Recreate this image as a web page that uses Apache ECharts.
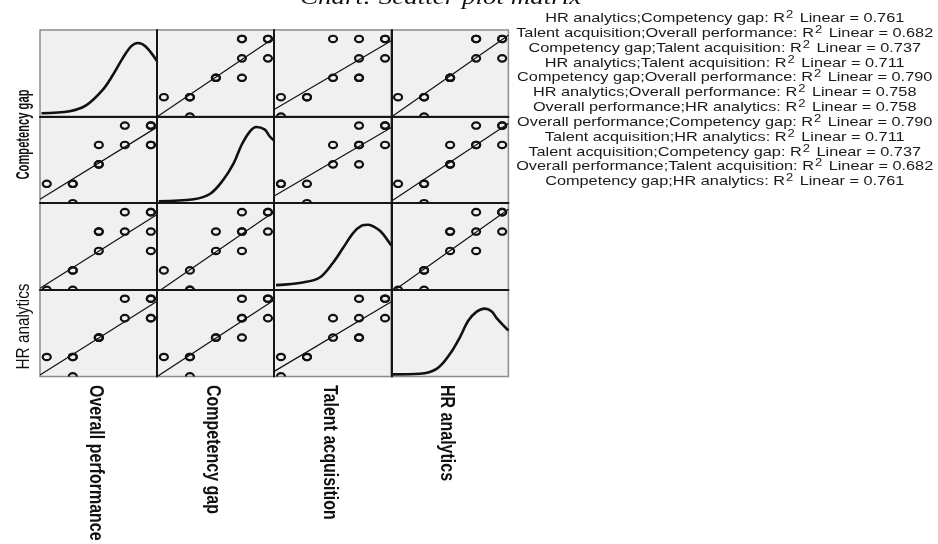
<!DOCTYPE html>
<html><head><meta charset="utf-8">
<script src="https://cdn.jsdelivr.net/npm/echarts@6/dist/echarts.min.js"></script>
<style>html,body{margin:0;padding:0;background:#fff}#c{width:938px;height:544px}</style>
</head><body><div id="c"></div><script>
// ---- data (13 respondents, Likert 1..5) ----
const variableNames = ['Overall performance', 'Competency gap', 'Talent acquisition', 'HR analytics'];
const overallPerformance = [1, 2, 2, 2, 3, 3, 3, 5, 4, 4, 5, 5, 5];
const competencyGap      = [2, 1, 2, 2, 3, 3, 4, 4, 4, 5, 5, 4, 5];
const talentAcquisition  = [1, 2, 1, 2, 3, 4, 4, 3, 4, 5, 5, 5, 4];
const hrAnalytics        = [2, 2, 1, 2, 3, 3, 3, 4, 4, 5, 4, 5, 5];

// diagonal normal curves (x in variable units, y relative density)
const curveOverallX = [0.80, 1.88, 2.51, 3.14, 3.54, 3.92, 4.24, 4.50, 4.80, 5.24];
const curveOverallY = [0.039, 0.062, 0.129, 0.305, 0.48, 0.675, 0.81, 0.85, 0.81, 0.64];
const curveCompetencyX = [0.80, 2.15, 2.78, 3.27, 3.68, 3.99, 4.31, 4.55, 4.88, 5.07, 5.24];
const curveCompetencyY = [0.023, 0.045, 0.109, 0.265, 0.46, 0.675, 0.83, 0.88, 0.85, 0.77, 0.72];
const curveTalentX = [0.81, 1.84, 2.49, 3.00, 3.39, 3.78, 4.10, 4.35, 4.75, 4.94, 5.24];
const curveTalentY = [0.054, 0.085, 0.142, 0.313, 0.485, 0.657, 0.74, 0.752, 0.695, 0.637, 0.51];
const curveHrX = [0.75, 1.83, 2.48, 2.99, 3.37, 3.69, 4.01, 4.33, 4.59, 4.78, 5.24];
const curveHrY = [0.023, 0.03, 0.087, 0.258, 0.449, 0.64, 0.745, 0.783, 0.753, 0.677, 0.53];

const rowLabels = ['', 'Competency gap', '', 'HR analytics'];
const columnLabels = ['Overall performance', 'Competency gap', 'Talent acquisition', 'HR analytics'];
const titleText = 'Chart: Scatter plot matrix';

const r2First  = ['HR analytics', 'Talent acquisition', 'Competency gap', 'HR analytics', 'Competency gap', 'HR analytics',
                  'Overall performance', 'Overall performance', 'Talent acquisition', 'Talent acquisition', 'Overall performance', 'Competency gap'];
const r2Second = ['Competency gap', 'Overall performance', 'Talent acquisition', 'Talent acquisition', 'Overall performance', 'Overall performance',
                  'HR analytics', 'Competency gap', 'HR analytics', 'Competency gap', 'Talent acquisition', 'HR analytics'];
const r2Values = ['0.761', '0.682', '0.737', '0.711', '0.790', '0.758', '0.758', '0.790', '0.711', '0.737', '0.682', '0.761'];

// ---- layout ----
const vars = [overallPerformance, competencyGap, talentAcquisition, hrAnalytics];
const curvesX = [curveOverallX, curveCompetencyX, curveTalentX, curveHrX];
const curvesY = [curveOverallY, curveCompetencyY, curveTalentY, curveHrY];
const L = 40, T = 30, W = 117.1, H = 86.6;
const XMIN = 0.74, XMAX = 5.24, YMIN = 1, YMAX = 5.46;
const SEP = '#161616';

const grid = [], xAxis = [], yAxis = [], series = [];
function fit(xs, ys) {
  const n = xs.length;
  const mx = xs.reduce((a, b) => a + b, 0) / n, my = ys.reduce((a, b) => a + b, 0) / n;
  let sxy = 0, sxx = 0;
  for (let k = 0; k < n; k++) { sxy += (xs[k] - mx) * (ys[k] - my); sxx += (xs[k] - mx) ** 2; }
  const b = sxy / sxx; return [my - b * mx, b];
}
for (let i = 0; i < 4; i++) {
  for (let j = 0; j < 4; j++) {
    const idx = i * 4 + j, diag = i === j;
    grid.push({ left: L + j * W, top: T + i * H, width: W, height: H, show: true,
      backgroundColor: '#f0f0f0', borderColor: '#8c8c8c', borderWidth: 1.5 });
    xAxis.push({ gridIndex: idx, type: 'value', min: XMIN, max: XMAX, z: 5,
      axisLine: { show: i < 3, onZero: false, lineStyle: { color: SEP, width: 2 } },
      axisTick: { show: false }, axisLabel: { show: false }, splitLine: { show: false } });
    yAxis.push({ gridIndex: idx, type: 'value', min: diag ? 0 : YMIN, max: diag ? 1 : YMAX, z: 5,
      axisLine: { show: j > 0, onZero: false, lineStyle: { color: SEP, width: 2 } },
      axisTick: { show: false }, axisLabel: { show: false }, splitLine: { show: false } });
    if (diag) {
      series.push({ type: 'line', xAxisIndex: idx, yAxisIndex: idx, smooth: 0.35, symbol: 'none', clip: true,
        lineStyle: { color: '#111', width: 2.6 }, data: curvesX[i].map((x, k) => [x, curvesY[i][k]]) });
    } else {
      const xs = vars[j], ys = vars[i];
      series.push({ type: 'custom', xAxisIndex: idx, yAxisIndex: idx, clip: true, z: 3,
        data: xs.map((x, k) => [x, ys[k]]),
        renderItem: function (params, api) {
          const p = api.coord([api.value(0), api.value(1)]);
          return { type: 'ellipse', shape: { cx: p[0], cy: p[1], rx: 4.0, ry: 3.2 },
            style: { fill: 'none', stroke: '#111', lineWidth: 2.2 } };
        } });
      const [a, b] = fit(xs, ys);
      series.push({ type: 'line', xAxisIndex: idx, yAxisIndex: idx, symbol: 'none', clip: true, z: 2,
        lineStyle: { color: '#111', width: 1.2 }, data: [[XMIN, a + b * XMIN], [XMAX, a + b * XMAX]] });
    }
  }
}

const graphic = [];
graphic.push({ type: 'text', x: 300, y: 9, scaleY: 0.8,
  style: { text: titleText, font: 'italic 27px "Liberation Serif", "Times New Roman", serif', fill: '#111',
    textAlign: 'left', textVerticalAlign: 'bottom' } });
for (let k = 0; k < r2Values.length; k++) {
  graphic.push({ type: 'text', x: 724.7, y: 18.3 + k * 14.85, scaleY: 0.82,
    style: { text: r2First[k] + ';' + r2Second[k] + ': R{sup|2} Linear = ' + r2Values[k],
      font: '16.3px "Liberation Sans", Arial, sans-serif', fill: '#1a1a1a', textAlign: 'center', textVerticalAlign: 'middle',
      rich: { sup: { fontSize: 13, fontFamily: 'Liberation Sans', verticalAlign: 'top', padding: [0, 2, 8, 1], fill: '#1a1a1a' } } } });
}
rowLabels.forEach((lab, i) => {
  if (!lab) return;
  graphic.push({ type: 'text', x: 24, y: i === 1 ? 134.5 : 326.5, rotation: Math.PI / 2, scaleX: i === 1 ? 0.62 : 0.85,
    style: { text: lab, font: (i === 1 ? 'bold ' : '') + '18px "Liberation Sans", Arial, sans-serif', fill: '#111',
      textAlign: 'center', textVerticalAlign: 'middle' } });
});
columnLabels.forEach((lab, j) => {
  graphic.push({ type: 'text', x: L + (j + 0.5) * W - 3, y: 385, rotation: -Math.PI / 2, scaleX: 0.8,
    style: { text: lab, font: 'bold 20px "Liberation Sans", Arial, sans-serif', fill: '#111',
      textAlign: 'left', textVerticalAlign: 'middle' } });
});

const chart = echarts.init(document.getElementById('c'), null, { renderer: 'canvas' });
chart.setOption({ animation: false, backgroundColor: '#fff', grid, xAxis, yAxis, series, graphic });
</script></body></html>
